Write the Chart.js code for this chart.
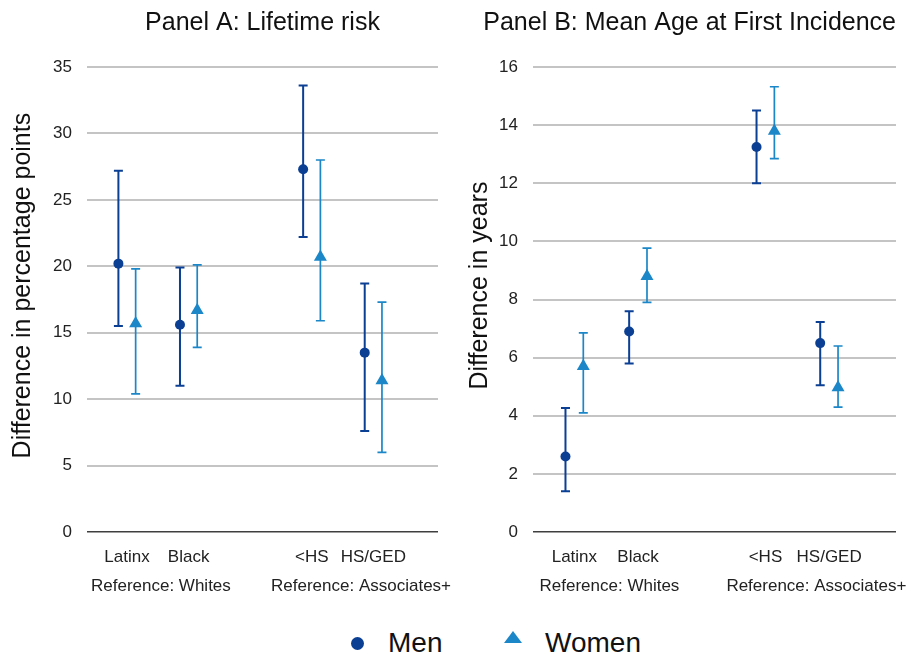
<!DOCTYPE html>
<html>
<head>
<meta charset="utf-8">
<script src="https://cdn.jsdelivr.net/npm/chart.js@4/dist/chart.umd.min.js"></script>
<style>
  html, body { margin: 0; padding: 0; background: #ffffff; }
  #wrap { position: relative; width: 921px; height: 654px; overflow: hidden; font-family: 'Liberation Sans', Arial, sans-serif; }
  #cA { position: absolute; left: 0; top: 0; }
  #cB { position: absolute; left: 460px; top: 0; }
  .lg-text { position: absolute; top: 629px; font-size: 28px; line-height: 28px; color: #111; white-space: nowrap; }
  .lg-dot { position: absolute; left: 351px; top: 637px; width: 13px; height: 13px; border-radius: 50%; background: #0b3f94; }
  .lg-tri { position: absolute; left: 504px; top: 631px; width: 0; height: 0; border-left: 9px solid transparent; border-right: 9px solid transparent; border-bottom: 12px solid #1b87c8; }
</style>
</head>
<body>
<div id="wrap">
  <canvas id="cA" width="460" height="600"></canvas>
  <canvas id="cB" width="461" height="600"></canvas>
  <div class="lg-dot"></div>
  <div class="lg-text" style="left:388px">Men</div>
  <div class="lg-tri"></div>
  <div class="lg-text" style="left:545px">Women</div>
</div>
<script>
// ---------- data ----------
const categories = ['Latinx', 'Black', '<HS', 'HS/GED'];
const groupLabels = ['Reference: Whites', 'Reference: Associates+'];
const seriesNames = ['Men', 'Women'];

// Panel A: lifetime risk (percentage points)
const riskMen      = [20.2, 15.6, 27.3, 13.5];
const riskMenLow   = [15.5, 11.0, 22.2, 7.6];
const riskMenHigh  = [27.2, 19.9, 33.6, 18.7];
const riskWomen     = [15.7, 16.7, 20.7, 11.4];
const riskWomenLow  = [10.4, 13.9, 15.9, 6.0];
const riskWomenHigh = [19.8, 20.1, 28.0, 17.3];

// Panel B: mean age at first incidence (years)
const ageMen      = [2.6, 6.9, 13.25, 6.5];
const ageMenLow   = [1.4, 5.8, 12.0, 5.05];
const ageMenHigh  = [4.27, 7.6, 14.5, 7.23];
const ageWomen     = [5.7, 8.8, 13.8, 4.97];
const ageWomenLow  = [4.1, 7.9, 12.85, 4.3];
const ageWomenHigh = [6.85, 9.77, 15.32, 6.4];

// ---------- layout config ----------
const catPos = [1, 2, 4, 5];
const groupPos = [1.55, 4.8];
const shift = 0.14;
const MEN_COLOR = '#0b3f94';
const WOMEN_COLOR = '#1b87c8';
const FONT = "'Liberation Sans', Arial, sans-serif";

function pts(vals, lo, hi, dx) {
  return vals.map((v, i) => ({ x: catPos[i] + dx, y: v, lo: lo[i], hi: hi[i] }));
}

const errorBars = {
  id: 'errorBars',
  beforeDatasetsDraw(chart) {
    const { ctx } = chart;
    const xs = chart.scales.x, ys = chart.scales.y;
    chart.data.datasets.forEach(ds => {
      ctx.save();
      ctx.strokeStyle = ds.borderColor;
      ctx.lineWidth = ds.errWidth;
      ds.data.forEach(p => {
        const px = xs.getPixelForValue(p.x);
        const yl = ys.getPixelForValue(p.lo);
        const yh = ys.getPixelForValue(p.hi);
        ctx.beginPath();
        ctx.moveTo(px, yl); ctx.lineTo(px, yh);
        ctx.moveTo(px - 4.5, yl); ctx.lineTo(px + 4.5, yl);
        ctx.moveTo(px - 4.5, yh); ctx.lineTo(px + 4.5, yh);
        ctx.stroke();
      });
      ctx.restore();
    });
  }
};

const xTickVals = [catPos[0], groupPos[0], catPos[1], catPos[2], groupPos[1], catPos[3]];
function xLabel(v) {
  const ci = catPos.indexOf(v);
  if (ci >= 0) return categories[ci];
  const gi = groupPos.indexOf(v);
  if (gi >= 0) return ['', groupLabels[gi]];
  return '';
}

function makeChart(id, title, titleFull, titleAlign, yTitle, yMax, yStep, men, menLo, menHi, wom, womLo, womHi, yWidth, padRight, yTitlePad) {
  return new Chart(document.getElementById(id), {
    type: 'scatter',
    data: {
      datasets: [
        {
          label: seriesNames[0],
          data: pts(men, menLo, menHi, -shift),
          pointStyle: 'circle', pointRadius: 5, pointHoverRadius: 5,
          backgroundColor: MEN_COLOR, borderColor: MEN_COLOR, pointBorderWidth: 0,
          errWidth: 2
        },
        {
          label: seriesNames[1],
          data: pts(wom, womLo, womHi, shift),
          pointStyle: 'triangle', pointRadius: 7.5, pointHoverRadius: 7.5,
          backgroundColor: WOMEN_COLOR, borderColor: WOMEN_COLOR, pointBorderWidth: 0,
          errWidth: 1.7
        }
      ]
    },
    options: {
      responsive: false,
      animation: false,
      events: [],
      layout: { padding: { left: 0, right: padRight, top: 0, bottom: 0 } },
      plugins: {
        legend: { display: false },
        tooltip: { enabled: false },
        title: {
          display: true, text: title, color: '#111', fullSize: titleFull, align: titleAlign,
          font: { family: FONT, size: 25, weight: 'normal' },
          padding: { top: 8, bottom: 29 }
        }
      },
      scales: {
        x: {
          type: 'linear', min: 0.35, max: 6.05,
          afterBuildTicks(scale) { scale.ticks = xTickVals.map(v => ({ value: v })); },
          afterFit(scale) { scale.height = 68; },
          grid: { display: false, drawTicks: false },
          border: { display: false },
          ticks: {
            autoSkip: false, maxRotation: 0, minRotation: 0, padding: 11,
            color: '#222', font: { family: FONT, size: 17, lineHeight: 1.7 },
            callback: v => xLabel(v)
          }
        },
        y: {
          min: 0, max: yMax,
          afterFit(scale) { scale.width = yWidth; },
          grid: {
            drawTicks: false,
            color: c => (c.tick && c.tick.value === 0) ? '#3f3f3f' : '#c4c4c4',
            lineWidth: c => (c.tick && c.tick.value === 0) ? 1.5 : 2
          },
          border: { display: false },
          ticks: {
            stepSize: yStep, padding: 15, color: '#222',
            font: { family: FONT, size: 17 }
          },
          title: {
            display: true, text: yTitle, color: '#111',
            font: { family: FONT, size: 25, weight: 'normal' },
            padding: { top: yTitlePad, bottom: 0 }
          }
        }
      }
    },
    plugins: [errorBars]
  });
}

makeChart('cA', 'Panel A: Lifetime risk', false, 'center', '    Difference in percentage points', 35, 5,
  riskMen, riskMenLow, riskMenHigh, riskWomen, riskWomenLow, riskWomenHigh, 87, 22, 8);
makeChart('cB', 'Panel B: Mean Age at First Incidence', true, 'end', '    Difference in years', 16, 2,
  ageMen, ageMenLow, ageMenHigh, ageWomen, ageWomenLow, ageWomenHigh, 73, 25, 5);
</script>
</body>
</html>
